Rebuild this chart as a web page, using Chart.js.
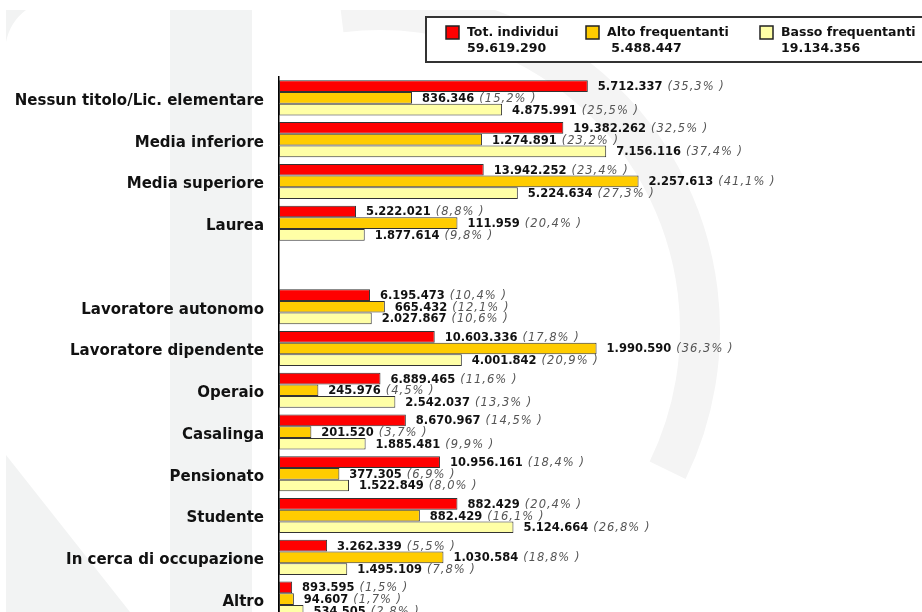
<!DOCTYPE html>
<html>
<head>
<meta charset="utf-8">
<script src="https://cdn.jsdelivr.net/npm/chart.js@4/dist/chart.umd.min.js"></script>
<style>
  html, body { margin: 0; padding: 0; background: #fff; overflow: hidden; }
  canvas { display: block; }
</style>
</head>
<body>
<canvas id="myChart" width="922" height="644"></canvas>
<script>
const categories = [
  "Nessun titolo/Lic. elementare", "Media inferiore", "Media superiore", "Laurea", "",
  "Lavoratore autonomo", "Lavoratore dipendente", "Operaio", "Casalinga",
  "Pensionato", "Studente", "In cerca di occupazione", "Altro",
];
const seriesNames = ["Tot. individui", "Alto frequentanti", "Basso frequentanti"];
const seriesTotals = ["59.619.290", "5.488.447", "19.134.356"];

const totValues = [5712337, 19382262, 13942252, 5222021, null, 6195473, 10603336, 6889465, 8670967, 10956161, 882429, 3262339, 893595];
const totPct = [35.3, 32.5, 23.4, 8.8, null, 10.4, 17.8, 11.6, 14.5, 18.4, 20.4, 5.5, 1.5];
const altoValues = [836346, 1274891, 2257613, 111959, null, 665432, 1990590, 245976, 201520, 377305, 882429, 1030584, 94607];
const altoPct = [15.2, 23.2, 41.1, 20.4, null, 12.1, 36.3, 4.5, 3.7, 6.9, 16.1, 18.8, 1.7];
const bassoValues = [4875991, 7156116, 5224634, 1877614, null, 2027867, 4001842, 2542037, 1885481, 1522849, 5124664, 1495109, 534505];
const bassoPct = [25.5, 37.4, 27.3, 9.8, null, 10.6, 20.9, 13.3, 9.9, 8.0, 26.8, 7.8, 2.8];

const colors = ["#ff0000", "#ffcc00", "#ffffa6"];
const FONT = "'DejaVu Sans', Verdana, sans-serif";

function fmtInt(n) {
  return String(n).replace(/\B(?=(\d{3})+(?!\d))/g, ".");
}
function fmtPct(p) {
  return "(" + p.toFixed(1).replace(".", ",") + "% )";
}

// faint logo watermark behind the chart
const watermark = {
  id: "watermark",
  beforeDraw(chart) {
    const c = chart.ctx;
    c.save();
    c.beginPath();
    c.rect(6, 10, 922, 640);
    c.clip();
    c.fillStyle = "#f2f3f3";
    c.strokeStyle = "#f4f4f4";
    c.fillRect(170, 10, 82, 640);
    c.lineWidth = 40;
    c.beginPath();
    c.arc(380, 330, 320, -97 * Math.PI / 180, 26 * Math.PI / 180);
    c.stroke();
    c.beginPath();
    c.moveTo(6, 455);
    c.lineTo(130, 612);
    c.lineTo(6, 612);
    c.closePath();
    c.fill();
    c.beginPath();
    c.moveTo(6, 10);
    c.lineTo(26, 10);
    c.quadraticCurveTo(10, 22, 6, 42);
    c.closePath();
    c.fill();
    c.restore();
  },
};

// value labels after each bar
const valueLabels = {
  id: "valueLabels",
  afterDatasetsDraw(chart) {
    const c = chart.ctx;
    const raw = [totValues, altoValues, bassoValues];
    const pct = [totPct, altoPct, bassoPct];
    c.save();
    c.textBaseline = "middle";
    chart.data.datasets.forEach((ds, di) => {
      chart.getDatasetMeta(di).data.forEach((bar, i) => {
        if (raw[di][i] == null) return;
        const x = bar.x + 10;
        const y = bar.y + 1;
        const num = fmtInt(raw[di][i]);
        c.font = "bold 11.5px " + FONT;
        c.fillStyle = "#111";
        c.letterSpacing = "0px";
        c.fillText(num, x, y);
        const w = c.measureText(num).width;
        c.font = "italic 11.5px " + FONT;
        c.fillStyle = "#555";
        c.letterSpacing = "1px";
        c.fillText(fmtPct(pct[di][i]), x + w + 5, y);
      });
    });
    c.restore();
  },
};

// boxed legend with totals
const boxLegend = {
  id: "boxLegend",
  afterDraw(chart) {
    const c = chart.ctx;
    c.save();
    c.fillStyle = "#fff";
    c.fillRect(426, 17, 520, 45);
    c.strokeStyle = "#333";
    c.lineWidth = 2;
    c.strokeRect(426, 17, 520, 45);
    const xs = [446, 586, 760];
    seriesNames.forEach((name, i) => {
      c.fillStyle = colors[i];
      c.fillRect(xs[i], 26, 13, 13);
      c.strokeStyle = "#222";
      c.lineWidth = 1.5;
      c.strokeRect(xs[i], 26, 13, 13);
      c.fillStyle = "#111";
      c.font = "bold 12.5px " + FONT;
      c.textBaseline = "alphabetic";
      c.fillText(name, xs[i] + 21, 36);
      c.fillText((i === 1 ? " " : "") + seriesTotals[i], xs[i] + 21, 52);
    });
    c.restore();
  },
};

const ctx = document.getElementById("myChart");

new Chart(ctx, {
  type: "bar",
  data: {
    labels: categories,
    datasets: [
      { label: seriesNames[0], data: totPct, backgroundColor: colors[0] },
      { label: seriesNames[1], data: altoPct, backgroundColor: colors[1] },
      { label: seriesNames[2], data: bassoPct, backgroundColor: colors[2] },
    ],
  },
  options: {
    indexAxis: "y",
    responsive: false,
    animation: false,
    devicePixelRatio: 1,
    layout: { padding: { top: 77, bottom: 2, right: 0, left: 0 } },
    datasets: {
      bar: {
        borderColor: "#333",
        borderWidth: 1,
        borderSkipped: false,
        categoryPercentage: 0.84,
        barPercentage: 1.0,
      },
    },
    plugins: {
      legend: { display: false },
      tooltip: { enabled: false },
    },
    scales: {
      x: {
        min: 0,
        max: 73.5,
        display: false,
      },
      y: {
        grid: { display: false, drawTicks: false },
        border: { display: true, color: "#000", width: 1.5 },
        ticks: {
          padding: 15,
          labelOffset: 3,
          color: "#111",
          font: { family: FONT, size: 15, weight: "bold" },
        },
        afterFit(scale) {
          scale.width = 279;
        },
      },
    },
  },
  plugins: [watermark, valueLabels, boxLegend],
});
</script>
</body>
</html>
